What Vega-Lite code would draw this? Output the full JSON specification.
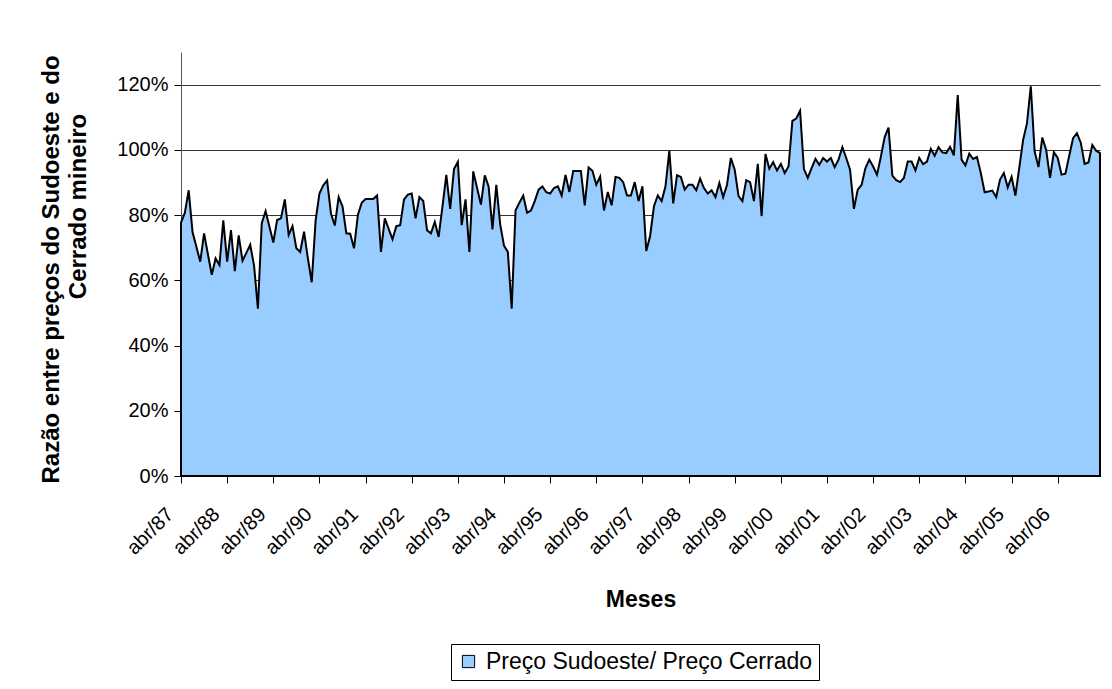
{
  "$schema": "https://vega.github.io/schema/vega-lite/v6.json",
  "width": 919,
  "height": 424,
  "autosize": {"type": "none"},
  "padding": {"left": 181, "top": 52, "right": 12, "bottom": 213},
  "background": "white",
  "config": {"view": {"stroke": null}, "font": "Liberation Sans"},
  "data": {"values": [
    {"mes":"abr/87","razao":0.777},{"mes":"mai/87","razao":0.807},{"mes":"jun/87","razao":0.876},{"mes":"jul/87","razao":0.748},{"mes":"ago/87","razao":0.703},{"mes":"set/87","razao":0.657},{"mes":"out/87","razao":0.744},{"mes":"nov/87","razao":0.680},{"mes":"dez/87","razao":0.617},
    {"mes":"jan/88","razao":0.667},{"mes":"fev/88","razao":0.647},{"mes":"mar/88","razao":0.784},{"mes":"abr/88","razao":0.657},{"mes":"mai/88","razao":0.754},{"mes":"jun/88","razao":0.628},{"mes":"jul/88","razao":0.738},{"mes":"ago/88","razao":0.660},{"mes":"set/88","razao":0.684},{"mes":"out/88","razao":0.709},{"mes":"nov/88","razao":0.645},{"mes":"dez/88","razao":0.513},
    {"mes":"jan/89","razao":0.775},{"mes":"fev/89","razao":0.812},{"mes":"mar/89","razao":0.764},{"mes":"abr/89","razao":0.716},{"mes":"mai/89","razao":0.785},{"mes":"jun/89","razao":0.790},{"mes":"jul/89","razao":0.848},{"mes":"ago/89","razao":0.739},{"mes":"set/89","razao":0.766},{"mes":"out/89","razao":0.698},{"mes":"nov/89","razao":0.687},{"mes":"dez/89","razao":0.749},
    {"mes":"jan/90","razao":0.667},{"mes":"fev/90","razao":0.594},{"mes":"mar/90","razao":0.782},{"mes":"abr/90","razao":0.866},{"mes":"mai/90","razao":0.891},{"mes":"jun/90","razao":0.906},{"mes":"jul/90","razao":0.805},{"mes":"ago/90","razao":0.768},{"mes":"set/90","razao":0.855},{"mes":"out/90","razao":0.827},{"mes":"nov/90","razao":0.744},{"mes":"dez/90","razao":0.743},
    {"mes":"jan/91","razao":0.698},{"mes":"fev/91","razao":0.800},{"mes":"mar/91","razao":0.838},{"mes":"abr/91","razao":0.849},{"mes":"mai/91","razao":0.849},{"mes":"jun/91","razao":0.849},{"mes":"jul/91","razao":0.860},{"mes":"ago/91","razao":0.687},{"mes":"set/91","razao":0.790},{"mes":"out/91","razao":0.758},{"mes":"nov/91","razao":0.726},{"mes":"dez/91","razao":0.766},
    {"mes":"jan/92","razao":0.769},{"mes":"fev/92","razao":0.848},{"mes":"mar/92","razao":0.863},{"mes":"abr/92","razao":0.866},{"mes":"mai/92","razao":0.790},{"mes":"jun/92","razao":0.855},{"mes":"jul/92","razao":0.843},{"mes":"ago/92","razao":0.753},{"mes":"set/92","razao":0.744},{"mes":"out/92","razao":0.779},{"mes":"nov/92","razao":0.733},{"mes":"dez/92","razao":0.827},
    {"mes":"jan/93","razao":0.923},{"mes":"fev/93","razao":0.819},{"mes":"mar/93","razao":0.941},{"mes":"abr/93","razao":0.963},{"mes":"mai/93","razao":0.769},{"mes":"jun/93","razao":0.848},{"mes":"jul/93","razao":0.687},{"mes":"ago/93","razao":0.934},{"mes":"set/93","razao":0.883},{"mes":"out/93","razao":0.832},{"mes":"nov/93","razao":0.922},{"mes":"dez/93","razao":0.888},
    {"mes":"jan/94","razao":0.756},{"mes":"fev/94","razao":0.893},{"mes":"mar/94","razao":0.772},{"mes":"abr/94","razao":0.706},{"mes":"mai/94","razao":0.687},{"mes":"jun/94","razao":0.513},{"mes":"jul/94","razao":0.814},{"mes":"ago/94","razao":0.838},{"mes":"set/94","razao":0.860},{"mes":"out/94","razao":0.807},{"mes":"nov/94","razao":0.814},{"mes":"dez/94","razao":0.843},
    {"mes":"jan/95","razao":0.878},{"mes":"fev/95","razao":0.888},{"mes":"mar/95","razao":0.870},{"mes":"abr/95","razao":0.866},{"mes":"mai/95","razao":0.883},{"mes":"jun/95","razao":0.888},{"mes":"jul/95","razao":0.860},{"mes":"ago/95","razao":0.923},{"mes":"set/95","razao":0.871},{"mes":"out/95","razao":0.935},{"mes":"nov/95","razao":0.935},{"mes":"dez/95","razao":0.935},
    {"mes":"jan/96","razao":0.830},{"mes":"fev/96","razao":0.946},{"mes":"mar/96","razao":0.936},{"mes":"abr/96","razao":0.893},{"mes":"mai/96","razao":0.918},{"mes":"jun/96","razao":0.814},{"mes":"jul/96","razao":0.871},{"mes":"ago/96","razao":0.830},{"mes":"set/96","razao":0.917},{"mes":"out/96","razao":0.914},{"mes":"nov/96","razao":0.901},{"mes":"dez/96","razao":0.860},
    {"mes":"jan/97","razao":0.860},{"mes":"fev/97","razao":0.901},{"mes":"mar/97","razao":0.843},{"mes":"abr/97","razao":0.888},{"mes":"mai/97","razao":0.690},{"mes":"jun/97","razao":0.736},{"mes":"jul/97","razao":0.827},{"mes":"ago/97","razao":0.860},{"mes":"set/97","razao":0.843},{"mes":"out/97","razao":0.888},{"mes":"nov/97","razao":0.997},{"mes":"dez/97","razao":0.836},
    {"mes":"jan/98","razao":0.922},{"mes":"fev/98","razao":0.917},{"mes":"mar/98","razao":0.878},{"mes":"abr/98","razao":0.893},{"mes":"mai/98","razao":0.893},{"mes":"jun/98","razao":0.876},{"mes":"jul/98","razao":0.912},{"mes":"ago/98","razao":0.883},{"mes":"set/98","razao":0.866},{"mes":"out/98","razao":0.876},{"mes":"nov/98","razao":0.855},{"mes":"dez/98","razao":0.898},
    {"mes":"jan/99","razao":0.855},{"mes":"fev/99","razao":0.893},{"mes":"mar/99","razao":0.975},{"mes":"abr/99","razao":0.939},{"mes":"mai/99","razao":0.858},{"mes":"jun/99","razao":0.843},{"mes":"jul/99","razao":0.907},{"mes":"ago/99","razao":0.901},{"mes":"set/99","razao":0.843},{"mes":"out/99","razao":0.957},{"mes":"nov/99","razao":0.797},{"mes":"dez/99","razao":0.987},
    {"mes":"jan/00","razao":0.942},{"mes":"fev/00","razao":0.962},{"mes":"mar/00","razao":0.937},{"mes":"abr/00","razao":0.957},{"mes":"mai/00","razao":0.929},{"mes":"jun/00","razao":0.949},{"mes":"jul/00","razao":1.089},{"mes":"ago/00","razao":1.096},{"mes":"set/00","razao":1.120},{"mes":"out/00","razao":0.941},{"mes":"nov/00","razao":0.914},{"mes":"dez/00","razao":0.944},
    {"mes":"jan/01","razao":0.972},{"mes":"fev/01","razao":0.954},{"mes":"mar/01","razao":0.975},{"mes":"abr/01","razao":0.964},{"mes":"mai/01","razao":0.975},{"mes":"jun/01","razao":0.947},{"mes":"jul/01","razao":0.970},{"mes":"ago/01","razao":1.008},{"mes":"set/01","razao":0.975},{"mes":"out/01","razao":0.939},{"mes":"nov/01","razao":0.819},{"mes":"dez/01","razao":0.878},
    {"mes":"jan/02","razao":0.893},{"mes":"fev/02","razao":0.944},{"mes":"mar/02","razao":0.970},{"mes":"abr/02","razao":0.949},{"mes":"mai/02","razao":0.924},{"mes":"jun/02","razao":0.978},{"mes":"jul/02","razao":1.039},{"mes":"ago/02","razao":1.068},{"mes":"set/02","razao":0.921},{"mes":"out/02","razao":0.907},{"mes":"nov/02","razao":0.901},{"mes":"dez/02","razao":0.914},
    {"mes":"jan/03","razao":0.964},{"mes":"fev/03","razao":0.964},{"mes":"mar/03","razao":0.937},{"mes":"abr/03","razao":0.975},{"mes":"mai/03","razao":0.956},{"mes":"jun/03","razao":0.964},{"mes":"jul/03","razao":1.003},{"mes":"ago/03","razao":0.982},{"mes":"set/03","razao":1.008},{"mes":"out/03","razao":0.992},{"mes":"nov/03","razao":0.990},{"mes":"dez/03","razao":1.009},
    {"mes":"jan/04","razao":0.983},{"mes":"fev/04","razao":1.168},{"mes":"mar/04","razao":0.970},{"mes":"abr/04","razao":0.952},{"mes":"mai/04","razao":0.988},{"mes":"jun/04","razao":0.972},{"mes":"jul/04","razao":0.978},{"mes":"ago/04","razao":0.929},{"mes":"set/04","razao":0.870},{"mes":"out/04","razao":0.872},{"mes":"nov/04","razao":0.875},{"mes":"dez/04","razao":0.855},
    {"mes":"jan/05","razao":0.909},{"mes":"fev/05","razao":0.929},{"mes":"mar/05","razao":0.885},{"mes":"abr/05","razao":0.917},{"mes":"mai/05","razao":0.860},{"mes":"jun/05","razao":0.945},{"mes":"jul/05","razao":1.030},{"mes":"ago/05","razao":1.081},{"mes":"set/05","razao":1.195},{"mes":"out/05","razao":0.995},{"mes":"nov/05","razao":0.947},{"mes":"dez/05","razao":1.038},
    {"mes":"jan/06","razao":1.000},{"mes":"fev/06","razao":0.914},{"mes":"mar/06","razao":0.993},{"mes":"abr/06","razao":0.975},{"mes":"mai/06","razao":0.924},{"mes":"jun/06","razao":0.927},{"mes":"jul/06","razao":0.982},{"mes":"ago/06","razao":1.036},{"mes":"set/06","razao":1.051},{"mes":"out/06","razao":1.022},{"mes":"nov/06","razao":0.957},{"mes":"dez/06","razao":0.961},
    {"mes":"jan/07","razao":1.015},{"mes":"fev/07","razao":0.997},{"mes":"mar/07","razao":0.990}
  ]},
  "mark": {"type": "area", "stroke": "black", "strokeWidth": 2, "strokeJoin": "miter", "opacity": 1},
  "encoding": {
    "x": {
      "field": "mes", "type": "ordinal", "sort": null,
      "scale": {"type": "point", "padding": 0},
      "axis": {
        "title": "Meses",
        "values": ["abr/87","abr/88","abr/89","abr/90","abr/91","abr/92","abr/93","abr/94","abr/95","abr/96","abr/97","abr/98","abr/99","abr/00","abr/01","abr/02","abr/03","abr/04","abr/05","abr/06"],
        "labelAngle": -45, "labelAlign": "right", "labelBaseline": "middle",
        "labelFontSize": 20, "labelColor": "black", "labelPadding": 28, "labelOffset": -11,
        "tickSize": 7, "tickColor": "black", "domainColor": "black",
        "grid": false,
        "titleFontSize": 23, "titleFontWeight": "bold", "titleColor": "black",
        "titleY": 112, "titleBaseline": "top"
      }
    },
    "y": {
      "field": "razao", "type": "quantitative",
      "scale": {"domain": [0, 1.3], "nice": false},
      "axis": {
        "title": ["Razão entre preços do Sudoeste e do", "\u2800\u2800\u2800\u2800\u2800\u2800\u2800Cerrado mineiro"],
        "values": [0, 0.2, 0.4, 0.6, 0.8, 1.0, 1.2],
        "format": ".0%",
        "labelFontSize": 20, "labelColor": "black", "labelPadding": 6,
        "tickSize": 7, "tickColor": "black", "domainColor": "#555",
        "grid": true, "gridColor": "#333", "gridWidth": 1,
        "titleFontSize": 24, "titleFontWeight": "bold", "titleColor": "black",
        "titleLineHeight": 27, "titleAngle": -90, "titleAlign": "center",
        "titleBaseline": "top", "titleX": -142, "titleY": 217
      }
    },
    "color": {
      "datum": "Preço Sudoeste/ Preço Cerrado",
      "scale": {"range": ["#99CCFF"]},
      "legend": {
        "orient": "none", "legendX": 270, "legendY": 592,
        "title": null, "symbolType": "square", "symbolSize": 150,
        "symbolStrokeColor": "black", "symbolStrokeWidth": 1,
        "labelFontSize": 23, "labelColor": "black", "labelOffset": 6, "labelLimit": 600,
        "strokeColor": "black", "padding": 6
      }
    }
  }
}
